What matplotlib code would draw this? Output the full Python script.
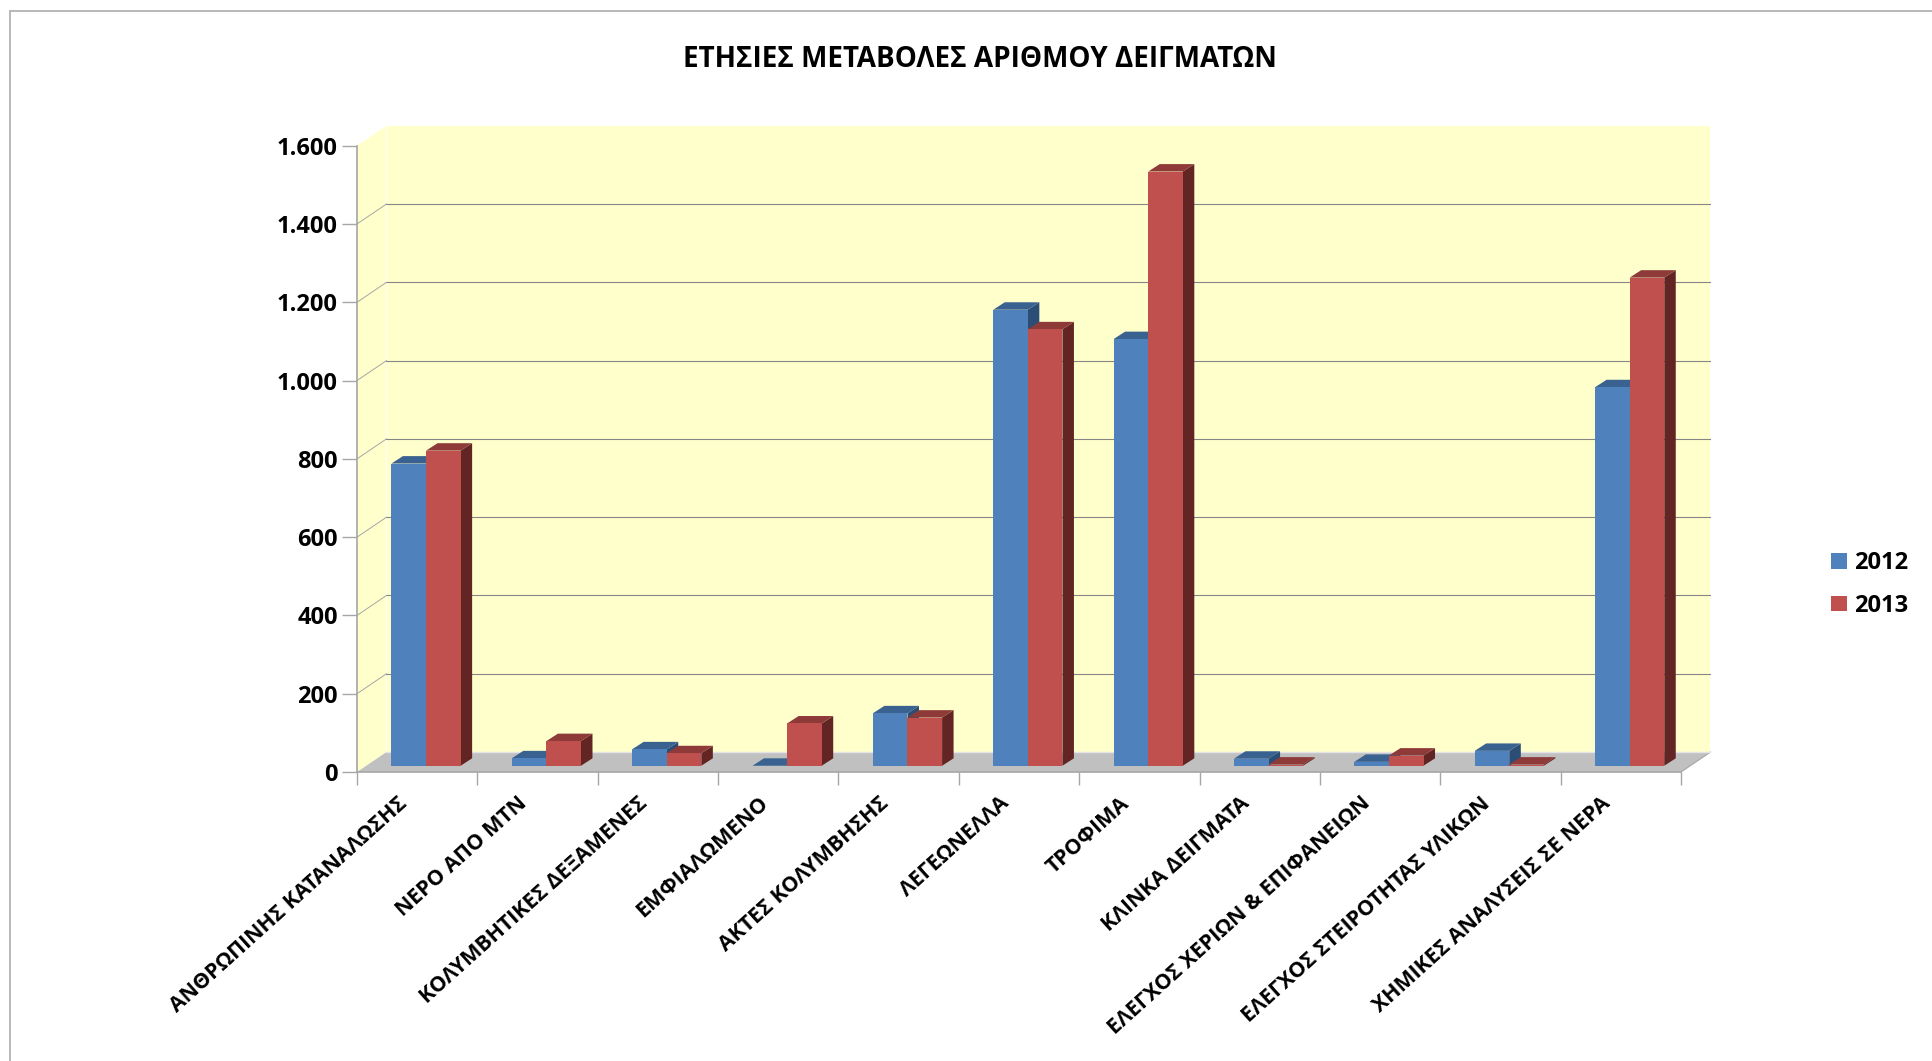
#!/usr/bin/env python
"""Grouped bar chart of yearly sample counts, drawn with an oblique 3D look"""
import matplotlib
matplotlib.use("Agg")
import matplotlib.pyplot as plt
from matplotlib.lines import Line2D
from matplotlib.patches import Patch, Polygon
from matplotlib.transforms import ScaledTranslation

plt.rcParams["font.family"] = ["Open Sans", "DejaVu Sans"]
plt.rcParams["font.weight"] = "bold"

TITLE = "ΕΤΗΣΙΕΣ ΜΕΤΑΒΟΛΕΣ ΑΡΙΘΜΟΥ ΔΕΙΓΜΑΤΩΝ"
CATEGORIES = [
    "ΑΝΘΡΩΠΙΝΗΣ ΚΑΤΑΝΑΛΩΣΗΣ",
    "ΝΕΡΟ ΑΠΟ ΜΤΝ",
    "ΚΟΛΥΜΒΗΤΙΚΕΣ ΔΕΞΑΜΕΝΕΣ",
    "ΕΜΦΙΑΛΩΜΕΝΟ",
    "ΑΚΤΕΣ ΚΟΛΥΜΒΗΣΗΣ",
    "ΛΕΓΕΩΝΕΛΛΑ",
    "ΤΡΟΦΙΜΑ",
    "ΚΛΙΝΚΑ ΔΕΙΓΜΑΤΑ",
    "ΕΛΕΓΧΟΣ ΧΕΡΙΩΝ & ΕΠΙΦΑΝΕΙΩΝ",
    "ΕΛΕΓΧΟΣ ΣΤΕΙΡΟΤΗΤΑΣ ΥΛΙΚΩΝ",
    "ΧΗΜΙΚΕΣ ΑΝΑΛΥΣΕΙΣ ΣΕ ΝΕΡΑ",
]
VALUES_2012 = [772, 19, 42, 0, 134, 1165, 1090, 18, 10, 38, 967]
VALUES_2013 = [805, 63, 32, 108, 123, 1115, 1518, 3, 26, 3, 1247]
Y_TICKS = [0, 200, 400, 600, 800, 1000, 1200, 1400, 1600]

# (front, top, side) shades of each series
BLUE = ("#4F81BD", "#3A6291", "#2C4D75")
RED = ("#C0504D", "#8E3A38", "#632523")
WALL = "#FFFFCC"
FLOOR = "#C0C0C0"
AXIS_GREY = "#A6A6A6"

W, H = 1933, 1061
AX_LEFT, AX_RIGHT, AX_BOTTOM, AX_TOP = 357, 1681, 772, 145.7

# oblique offsets in data units: walls, then bars
WALL_DX, WALL_DY = 0.245, 51
BAR_DX, BAR_DY = 0.0955, 19
BAR_SHIFT, BAR_LIFT, BAR_W = 0.286, 16, 0.2875


def box(ax, x, value, shades, z):
    """Draw one bar as three parallelograms"""
    y0, y1 = BAR_LIFT, BAR_LIFT + value
    x1 = x + BAR_W
    front, top, side = shades
    faces = [
        (side, [(x1, y0), (x1 + BAR_DX, y0 + BAR_DY), (x1 + BAR_DX, y1 + BAR_DY), (x1, y1)]),
        (top, [(x, y1), (x1, y1), (x1 + BAR_DX, y1 + BAR_DY), (x + BAR_DX, y1 + BAR_DY)]),
        (front, [(x, y0), (x1, y0), (x1, y1), (x, y1)]),
    ]
    for color, pts in faces:
        ax.add_patch(Polygon(pts, closed=True, fc=color, ec="none", zorder=z, clip_on=False))


fig = plt.figure(figsize=(W / 100, H / 100), dpi=100)
ax = fig.add_axes([AX_LEFT / W, 1 - AX_BOTTOM / H, (AX_RIGHT - AX_LEFT) / W, (AX_BOTTOM - AX_TOP) / H])
n = len(CATEGORIES)
ax.set_xlim(0, n)
ax.set_ylim(0, Y_TICKS[-1])
ax.patch.set_visible(False)

# walls and floor
top = Y_TICKS[-1]
ax.add_patch(Polygon([(0, 0), (WALL_DX, WALL_DY), (WALL_DX, top + WALL_DY), (0, top)],
                     fc=WALL, ec="none", zorder=1, clip_on=False))
ax.add_patch(Polygon([(WALL_DX, WALL_DY), (n + WALL_DX, WALL_DY), (n + WALL_DX, top + WALL_DY), (WALL_DX, top + WALL_DY)],
                     fc=WALL, ec="none", zorder=1, clip_on=False))
ax.plot([WALL_DX, WALL_DX], [WALL_DY, top + WALL_DY], color="#FFFFF0", lw=1, zorder=1.5, clip_on=False)
for tick in Y_TICKS[1:-1]:
    ax.plot([WALL_DX, n + WALL_DX], [tick + WALL_DY] * 2, color="#868686", lw=0.8, zorder=2, clip_on=False)
    ax.plot([0, WALL_DX], [tick, tick + WALL_DY], color="#A6A6A6", lw=0.7, zorder=2, clip_on=False)
ax.add_patch(Polygon([(0, 0), (n, 0), (n + WALL_DX, WALL_DY), (WALL_DX, WALL_DY)],
                     fc=FLOOR, ec="none", zorder=3, clip_on=False))
ax.plot([n, n + WALL_DX], [0, WALL_DY], color="#A6A6A6", lw=0.8, zorder=3.5, clip_on=False)
ax.plot([WALL_DX, n + WALL_DX], [WALL_DY, WALL_DY], color="#E4E4E4", lw=1, zorder=3.5, clip_on=False)

for i in range(n):
    x = i + BAR_SHIFT
    box(ax, x, VALUES_2012[i], BLUE, 4 + i * 0.1)
    box(ax, x + BAR_W, VALUES_2013[i], RED, 4.05 + i * 0.1)

for name in ("top", "right"):
    ax.spines[name].set_visible(False)
for name in ("left", "bottom"):
    ax.spines[name].set_color(AXIS_GREY)
    ax.spines[name].set_linewidth(1.2)
    ax.spines[name].set_zorder(6)

ax.set_yticks(Y_TICKS)
ax.set_yticklabels([f"{t:,}".replace(",", ".") for t in Y_TICKS], fontsize=17, fontweight="bold")
ax.tick_params(axis="y", length=10.8, width=1, color=AXIS_GREY, pad=3)

# ticks sit on the category edges, labels on the centres
ax.set_xticks(range(n + 1))
ax.set_xticklabels([])
ax.set_xticks([i + 0.5 for i in range(n)], minor=True)
ax.set_xticklabels(CATEGORIES, minor=True, rotation=42, ha="right", va="top",
                   rotation_mode="anchor", fontsize=15.4, fontweight="bold")
ax.tick_params(axis="x", which="major", length=9.5, width=1, color=AXIS_GREY)
ax.tick_params(axis="x", which="minor", length=0, pad=15)
shift = ScaledTranslation(-20 / 100, 0, fig.dpi_scale_trans)
for label in ax.get_xticklabels(minor=True):
    label.set_transform(label.get_transform() + shift)

fig.text(980 / W, 1 - 67 / H, TITLE, ha="center", va="baseline", fontsize=20.1, fontweight="bold")

handles = [Patch(fc=BLUE[0], ec="none"), Patch(fc=RED[0], ec="none")]
fig.legend(handles, ["2012", "2013"], loc="center left", bbox_to_anchor=(1810 / W, 1 - 584.5 / H),
           frameon=False, fontsize=17, handlelength=0.68, handleheight=0.64,
           handletextpad=0.28, labelspacing=0.78)

# thin outer frame
frame = dict(color="#B8B8B8", lw=1.4, transform=fig.transFigure)
fig.add_artist(Line2D([10 / W, 10 / W], [0, 1 - 11 / H], **frame))
fig.add_artist(Line2D([10 / W, 1], [1 - 11 / H, 1 - 11 / H], **frame))

fig.savefig("out.png", dpi=100, facecolor="white")
